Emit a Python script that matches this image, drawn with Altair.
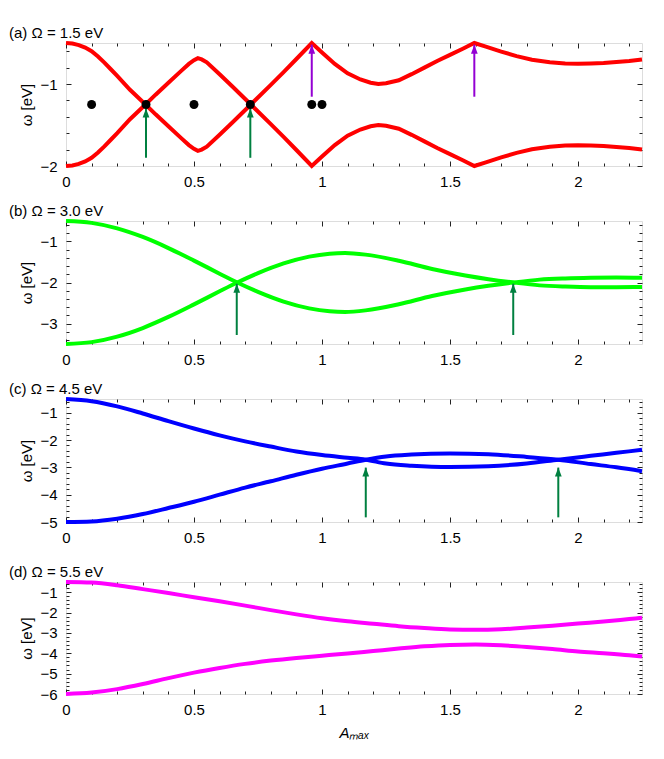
import altair as alt
import pandas as pd

FONT = "Liberation Sans"

# ---------------- data ----------------
# panel (a)  Omega = 1.5 eV
xa = [0, 0.025, 0.05, 0.075, 0.1, 0.125, 0.15, 0.175, 0.2, 0.25, 0.3125, 0.35, 0.4, 0.45,
      0.48, 0.5, 0.515, 0.53, 0.55, 0.6, 0.65, 0.72, 0.8, 0.85, 0.9, 0.96, 1.0, 1.05, 1.1,
      1.15, 1.19, 1.22, 1.25, 1.3, 1.35, 1.4, 1.45, 1.5, 1.55, 1.595, 1.64, 1.7, 1.76, 1.82,
      1.89, 1.95, 2.0, 2.05, 2.1, 2.2, 2.25]
a_s1 = [-0.5, -0.507, -0.525, -0.556, -0.60, -0.665, -0.74, -0.82, -0.90, -1.07, -1.256,
        -1.37, -1.515, -1.66, -1.745, -1.79, -1.815, -1.80, -1.765, -1.62, -1.47, -1.256,
        -1.01, -0.855, -0.695, -0.5, -0.615, -0.755, -0.87, -0.945, -0.985, -1.0, -0.99,
        -0.955, -0.88, -0.80, -0.72, -0.645, -0.57, -0.5, -0.545, -0.605, -0.66, -0.705,
        -0.735, -0.75, -0.752, -0.75, -0.745, -0.72, -0.70]
a_s2 = [-2.0, -1.993, -1.975, -1.944, -1.90, -1.835, -1.76, -1.68, -1.60, -1.43, -1.244,
        -1.13, -0.985, -0.84, -0.755, -0.71, -0.685, -0.70, -0.735, -0.88, -1.03, -1.244,
        -1.49, -1.645, -1.805, -2.0, -1.885, -1.745, -1.63, -1.555, -1.515, -1.50, -1.51,
        -1.545, -1.62, -1.70, -1.78, -1.855, -1.93, -2.0, -1.955, -1.895, -1.84, -1.795,
        -1.765, -1.75, -1.748, -1.75, -1.755, -1.78, -1.80]
a_dot_x = [0.1, 0.3125, 0.5, 0.72, 0.96, 1.0]
a_dot_y = [-1.25, -1.25, -1.25, -1.25, -1.25, -1.25]
a_green_x = [0.3125, 0.72]
a_green_from = [-1.90, -1.90]
a_green_to = [-1.30, -1.30]
a_purple_x = [0.96, 1.595]
a_purple_from = [-1.155, -1.155]
a_purple_to = [-0.52, -0.52]

# panel (b)  Omega = 3.0 eV
xb = [0, 0.1, 0.2, 0.3, 0.4, 0.5, 0.6, 0.667, 0.75, 0.85, 0.95, 1.03, 1.09, 1.17, 1.3,
      1.43, 1.56, 1.65, 1.747, 1.85, 1.95, 2.05, 2.15, 2.25]
b_s1 = [-0.5, -0.546, -0.68, -0.89, -1.16, -1.466, -1.785, -1.993, -2.228, -2.465, -2.631,
        -2.703, -2.72, -2.68, -2.53, -2.33, -2.17, -2.08, -2.0, -1.93, -1.90, -1.885, -1.88,
        -1.885]
b_s2 = [-3.5, -3.454, -3.32, -3.11, -2.84, -2.534, -2.215, -2.007, -1.772, -1.535, -1.369,
        -1.297, -1.28, -1.32, -1.47, -1.67, -1.83, -1.92, -2.0, -2.07, -2.10, -2.115, -2.115,
        -2.11]
b_green_x = [0.667, 1.747]
b_green_from = [-3.28, -3.28]
b_green_to = [-2.03, -2.03]

# panel (c)  Omega = 4.5 eV
xc = [0, 0.1, 0.2, 0.3, 0.4, 0.5, 0.6, 0.7, 0.8, 0.9, 1.0, 1.1, 1.171, 1.25, 1.35, 1.5,
      1.65, 1.8, 1.923, 2.05, 2.15, 2.25]
c_s1 = [-0.5, -0.58, -0.77, -1.03, -1.31, -1.58, -1.83, -2.05, -2.24, -2.42, -2.55, -2.65,
        -2.72, -2.86, -2.94, -2.99, -2.96, -2.86, -2.72, -2.58, -2.47, -2.36]
c_s2 = [-5.0, -4.98, -4.88, -4.71, -4.49, -4.26, -4.0, -3.74, -3.51, -3.27, -3.05, -2.86,
        -2.72, -2.60, -2.53, -2.49, -2.52, -2.62, -2.72, -2.88, -3.0, -3.14]
c_green_x = [1.171, 1.923]
c_green_from = [-4.83, -4.83]
c_green_to = [-3.01, -3.01]

# panel (d)  Omega = 5.5 eV
xd = [0, 0.1, 0.2, 0.3, 0.4, 0.5, 0.6, 0.7, 0.8, 0.9, 1.0, 1.1, 1.2, 1.3, 1.4, 1.5, 1.6,
      1.7, 1.8, 1.9, 2.0, 2.1, 2.2, 2.25]
d_s1 = [-0.5, -0.53, -0.66, -0.85, -1.04, -1.25, -1.45, -1.66, -1.88, -2.09, -2.28, -2.43,
        -2.55, -2.67, -2.76, -2.83, -2.85, -2.82, -2.74, -2.65, -2.54, -2.44, -2.32, -2.26]
d_s2 = [-6.0, -5.93, -5.76, -5.51, -5.22, -4.95, -4.72, -4.52, -4.36, -4.23, -4.12, -4.01,
        -3.89, -3.77, -3.66, -3.59, -3.57, -3.61, -3.69, -3.79, -3.91, -4.0, -4.10, -4.16]

# axis tick values (major + minor)
x_ticks = [0, 0.1, 0.2, 0.3, 0.4, 0.5, 0.6, 0.7, 0.8, 0.9, 1.0, 1.1, 1.2, 1.3, 1.4, 1.5,
           1.6, 1.7, 1.8, 1.9, 2.0, 2.1, 2.2]
y_ticks_a = [-2.0, -1.8, -1.6, -1.4, -1.2, -1.0, -0.8, -0.6]
y_ticks_b = [-3.4, -3.2, -3.0, -2.8, -2.6, -2.4, -2.2, -2.0, -1.8, -1.6, -1.4, -1.2, -1.0,
             -0.8, -0.6]
y_ticks_c = [-5.0, -4.8, -4.6, -4.4, -4.2, -4.0, -3.8, -3.6, -3.4, -3.2, -3.0, -2.8, -2.6,
             -2.4, -2.2, -2.0, -1.8, -1.6, -1.4, -1.2, -1.0, -0.8, -0.6]
y_ticks_d = [-6.0, -5.8, -5.6, -5.4, -5.2, -5.0, -4.8, -4.6, -4.4, -4.2, -4.0, -3.8, -3.6,
             -3.4, -3.2, -3.0, -2.8, -2.6, -2.4, -2.2, -2.0, -1.8, -1.6, -1.4, -1.2, -1.0,
             -0.8, -0.6]

RED, GREEN, BLUE, MAGENTA = "#ff0000", "#00ff00", "#0000ff", "#ff00ff"
DKGREEN, PURPLE = "#008040", "#9400d3"

XMAJ = "abs(datum.value*2 - round(datum.value*2)) < 0.001"
YMAJ = "abs(datum.value - round(datum.value)) < 0.001"
HEAD = "M -0.75 2 L 0 0 L 0.75 2 Z"
FS = 15


def make_axis(orient, values, major, show_labels, title="", title_italic=False):
    kw = dict(orient=orient, values=values, domain=False, grid=False,
              tickColor="#222222", tickWidth=1,
              tickSize={"expr": f"{major} ? -5 : -3"},
              labels=show_labels, title=title)
    if show_labels:
        kw.update(format="~g", labelExpr=f"{major} ? datum.label : ''",
                  labelFont=FONT, labelFontSize=FS, labelColor="black",
                  labelFlush=False, labelOverlap=False,
                  labelPadding=13 if orient in ("bottom", "top") else 14)
    if title:
        kw.update(titleFont=FONT, titleFontSize=FS, titleFontWeight="normal",
                  titleColor="black",
                  titlePadding=6 if orient in ("bottom", "top") else 5)
        if title_italic:
            kw.update(titleFontStyle="italic")
    return alt.Axis(**kw)


def panel(xs, s1, s2, color, ydom, yticks, label, height, interp,
          arrows=(), dots=None, xtitle=""):
    df = pd.DataFrame({"x": xs + xs, "y": s1 + s2,
                       "s": ["1"] * len(xs) + ["2"] * len(xs)})
    xsc = alt.Scale(domain=[0, 2.25], nice=False, zero=False)
    ysc = alt.Scale(domain=ydom, nice=False, zero=False)

    frame = alt.Chart(df).mark_line(opacity=0).encode(
        x=alt.X("x:Q", scale=xsc, axis=make_axis("top", x_ticks, XMAJ, False)),
        y=alt.Y("y:Q", scale=ysc, axis=make_axis("right", yticks, YMAJ, False)),
        detail="s:N")
    lines = alt.Chart(df).mark_line(color=color, strokeWidth=4, interpolate=interp).encode(
        x=alt.X("x:Q", scale=xsc,
                axis=make_axis("bottom", x_ticks, XMAJ, True, xtitle, True)),
        y=alt.Y("y:Q", scale=ysc,
                axis=make_axis("left", yticks, YMAJ, True, "ω [eV]")),
        detail="s:N")
    layers = [frame, lines]
    for ax_x, y_from, y_to, acol in arrows:
        adf = pd.DataFrame({"x": ax_x, "y0": y_from, "y1": y_to})
        layers.append(alt.Chart(adf).mark_rule(color=acol, strokeWidth=2).encode(
            x=alt.X("x:Q", scale=xsc, axis=None),
            y=alt.Y("y0:Q", scale=ysc, axis=None),
            y2="y1:Q"))
        layers.append(alt.Chart(adf).mark_point(shape=HEAD, size=81, filled=True,
                                                opacity=1, color=acol, strokeWidth=0).encode(
            x=alt.X("x:Q", scale=xsc, axis=None),
            y=alt.Y("y1:Q", scale=ysc, axis=None)))
    if dots is not None:
        ddf = pd.DataFrame({"x": dots[0], "y": dots[1]})
        layers.append(alt.Chart(ddf).mark_circle(size=80, color="black", opacity=1).encode(
            x=alt.X("x:Q", scale=xsc, axis=None),
            y=alt.Y("y:Q", scale=ysc, axis=None)))
    return alt.layer(*layers).resolve_axis(x="independent", y="independent").properties(
        width=576, height=height,
        title=alt.TitleParams(text=label, anchor="start", frame="group", dx=-57,
                              offset=-6, font=FONT, fontSize=FS, fontWeight="normal",
                              color="black"))


pa = panel(xa, a_s1, a_s2, RED, [-2, -0.5], y_ticks_a, "(a) Ω = 1.5 eV", 123, "linear",
           arrows=[(a_green_x, a_green_from, a_green_to, DKGREEN),
                   (a_purple_x, a_purple_from, a_purple_to, PURPLE)],
           dots=(a_dot_x, a_dot_y))
pb = panel(xb, b_s1, b_s2, GREEN, [-3.5, -0.5], y_ticks_b, "(b) Ω = 3.0 eV", 123, "monotone",
           arrows=[(b_green_x, b_green_from, b_green_to, DKGREEN)])
pc = panel(xc, c_s1, c_s2, BLUE, [-5, -0.5], y_ticks_c, "(c) Ω = 4.5 eV", 123, "monotone",
           arrows=[(c_green_x, c_green_from, c_green_to, DKGREEN)])
pd_ = panel(xd, d_s1, d_s2, MAGENTA, [-6, -0.5], y_ticks_d, "(d) Ω = 5.5 eV", 112, "monotone",
            xtitle="Aₘₐₓ")

top3 = alt.vconcat(pa, pb, pc, spacing=11)
chart = alt.vconcat(top3, pd_, spacing=16).properties(
    padding={"left": 0, "top": 17, "right": 5, "bottom": 5}
).configure_view(stroke="#222222", strokeWidth=1).configure(background="white")

chart.save("out.html", embed_options={"renderer": "svg", "actions": False})
